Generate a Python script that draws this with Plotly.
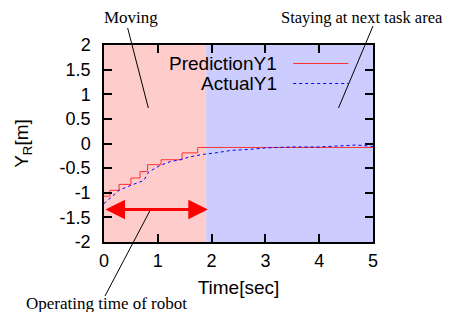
import plotly.graph_objects as go

# ---- data ----
pred_t = [0, 0.11, 0.28, 0.50, 0.67, 0.81, 1.06, 1.45, 1.74, 5.0]
pred_y = [-1.07, -0.95, -0.83, -0.70, -0.57, -0.43, -0.33, -0.19, -0.08, -0.08]

act_t = [0, 0.10, 0.28, 0.50, 0.74, 0.83, 1.05, 1.23, 1.41, 1.60, 1.84, 2.08,
         2.36, 2.70, 3.00, 3.50, 4.00, 4.35, 4.70, 5.0]
act_y = [-1.22, -1.12, -0.95, -0.85, -0.75, -0.58, -0.44, -0.37, -0.33, -0.27,
         -0.22, -0.19, -0.14, -0.12, -0.09, -0.07, -0.07, -0.05, -0.03, -0.06]

moving_end = 1.9        # end of "Moving" phase (sec)
x_end = 5.0
arrow_y = -1.34
arrow_end = 1.93

x_ticks = [0, 1, 2, 3, 4, 5]
y_ticks = [-2, -1.5, -1, -0.5, 0, 0.5, 1, 1.5, 2]

# page body has an 8px margin: the figure starts at (8, 8) on screen
OFF = 8
W, H = 445, 304
ML, MR, MT, MB = 92, 80, 37, 70
PW, PH = W - ML - MR, H - MT - MB


def px(x):  # screen x -> paper
    return (x - OFF - ML) / PW


def py(y):  # screen y -> paper
    return (OFF + H - MB - y) / PH


SANS = "Liberation Sans, Arial, sans-serif"
SERIF = "Liberation Serif, Times New Roman, serif"

fig = go.Figure()

fig.add_trace(go.Scatter(x=pred_t, y=pred_y, mode="lines", line_shape="hv",
                         line=dict(color="#ff3030", width=1), name="PredictionY1"))
fig.add_trace(go.Scatter(x=act_t, y=act_y, mode="lines",
                         line=dict(color="#0000ff", width=1, dash="3px,3px"), name="ActualY1"))

shapes = [
    dict(type="rect", xref="x", yref="paper", x0=0, x1=moving_end, y0=0, y1=1,
         fillcolor="#ffcccc", line=dict(width=0), layer="below"),
    dict(type="rect", xref="x", yref="paper", x0=moving_end, x1=x_end, y0=0, y1=1,
         fillcolor="#ccccff", line=dict(width=0), layer="below"),
    # legend samples
    dict(type="line", xref="paper", yref="paper", x0=px(292), x1=px(348), y0=py(63.5), y1=py(63.5),
         line=dict(color="#ff3030", width=1)),
    dict(type="line", xref="paper", yref="paper", x0=px(292), x1=px(348), y0=py(83.5), y1=py(83.5),
         line=dict(color="#0000ff", width=1, dash="3px,3px")),
    # callout lines
    dict(type="line", xref="paper", yref="paper", x0=px(124), x1=px(145), y0=py(28), y1=py(108),
         line=dict(color="black", width=1)),
    dict(type="line", xref="paper", yref="paper", x0=px(373), x1=px(338), y0=py(26), y1=py(108),
         line=dict(color="black", width=1)),
    dict(type="line", xref="paper", yref="paper", x0=px(147), x1=px(101), y0=py(210), y1=py(296),
         line=dict(color="black", width=1)),
]

annotations = [
    dict(xref="paper", yref="paper", x=px(278), y=py(63.5), text="PredictionY1", showarrow=False,
         xanchor="right", yanchor="middle", font=dict(family=SANS, size=19, color="black")),
    dict(xref="paper", yref="paper", x=px(278), y=py(83.5), text="ActualY1", showarrow=False,
         xanchor="right", yanchor="middle", font=dict(family=SANS, size=19, color="black")),
    dict(xref="paper", yref="paper", x=px(127.5), y=py(17.5), text="Moving", showarrow=False,
         xanchor="center", yanchor="middle", font=dict(family=SERIF, size=17, color="black")),
    dict(xref="paper", yref="paper", x=px(446), y=py(17.5), text="Staying at next task area", showarrow=False,
         xanchor="right", yanchor="middle", font=dict(family=SERIF, size=16.5, color="black")),
    dict(xref="paper", yref="paper", x=px(102.5), y=py(303), text="Operating time of robot", showarrow=False,
         xanchor="center", yanchor="middle", font=dict(family=SERIF, size=17, color="black")),
    dict(xref="x", yref="y", x=arrow_end, y=arrow_y, ax=0, ay=arrow_y, axref="x", ayref="y",
         text="", showarrow=True, arrowside="end+start", arrowhead=2, arrowsize=1.3,
         arrowwidth=3, arrowcolor="#ff0000", standoff=0, startstandoff=0),
]

axis_common = dict(showline=True, linecolor="black", linewidth=1.5, mirror="allticks",
                   ticks="inside", ticklen=8, tickwidth=1.5, tickcolor="black",
                   showgrid=False, zeroline=False,
                   tickfont=dict(family=SANS, size=18, color="black"))

fig.update_xaxes(range=[0, x_end], tickvals=x_ticks, ticktext=[str(v) for v in x_ticks],
                 title=dict(text="Time[sec]", font=dict(family=SANS, size=19, color="black"), standoff=10),
                 ticklabelstandoff=2, **axis_common)
fig.update_yaxes(range=[-2, 2], tickvals=y_ticks, ticktext=[f"{v:g}" for v in y_ticks],
                 title=dict(text="Y<sub>R</sub>[m]", font=dict(family=SANS, size=19, color="black"), standoff=26),
                 ticklabelstandoff=8, **axis_common)

fig.update_layout(width=W, height=H, margin=dict(l=ML, r=MR, t=MT, b=MB),
                  paper_bgcolor="white", plot_bgcolor="white", showlegend=False,
                  shapes=shapes, annotations=annotations)

fig.write_html("out.html")
